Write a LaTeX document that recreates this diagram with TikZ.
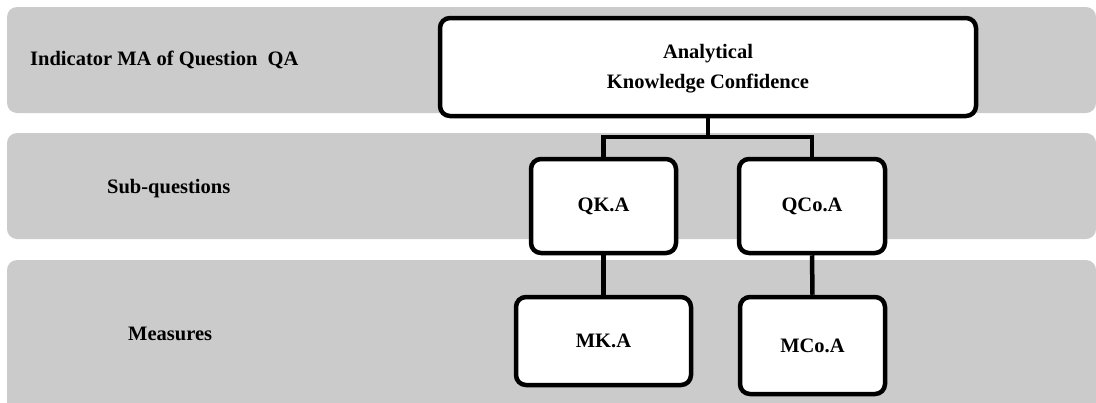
\documentclass[tikz,border=0pt]{standalone}
\usepackage{fontspec}
\setmainfont{Liberation Serif}
\begin{document}
\begin{tikzpicture}[x=1pt,y=-1pt,
  band/.style={fill=bandgray,draw=none,rounded corners=10pt},
  lbl/.style={font=\fontsize{20.5}{24}\selectfont\bfseries,anchor=west,inner sep=0pt},
  box/.style={draw=black,line width=4.5pt,fill=white,rounded corners=10pt,
    font=\fontsize{20.5}{30}\selectfont\bfseries,align=center,inner sep=0pt},
  link/.style={draw=black,line width=4.5pt}]
\definecolor{bandgray}{HTML}{CBCBCB}
\useasboundingbox (0,0) rectangle (1096,402);
% grey bands
\path[band] (7,7) rectangle (1096,113);
\path[band] (7,133) rectangle (1096,239);
\path[band] (7,260) rectangle (1096,412);
% band labels
\node[lbl] (l1) at (30,60) {Indicator MA of Question\ \ QA};
\node[lbl] (l2) at (107,189) {Sub-questions};
\node[lbl] (l3) at (128,334) {Measures};
% boxes
\node[box,minimum width=536pt,minimum height=98pt] (top) at (708,67) {};
\node[box,draw=none,fill=none] (toptext) at (708,69) {Analytical\\Knowledge Confidence};
\node[box,minimum width=145pt,minimum height=94pt] (qk) at (603.5,206) {QK.A};
\node[box,minimum width=146pt,minimum height=94pt] (qco) at (812,206) {QCo.A};
\node[box,minimum width=175pt,minimum height=88pt] (mk) at (603.5,341) {MK.A};
\node[box,minimum width=145pt,minimum height=97pt] (mco) at (812.5,345.5) {MCo.A};
% connectors
\coordinate (bar) at (708,137);
\draw[link] (top.south) -- (bar);
\draw[link] (bar) -| (qk.north);
\draw[link] (bar) -| (qco.north);
\draw[link] (qk.south) -- (mk.north);
\draw[link] (qco.south) -- (mco.north);
\end{tikzpicture}
\end{document}
